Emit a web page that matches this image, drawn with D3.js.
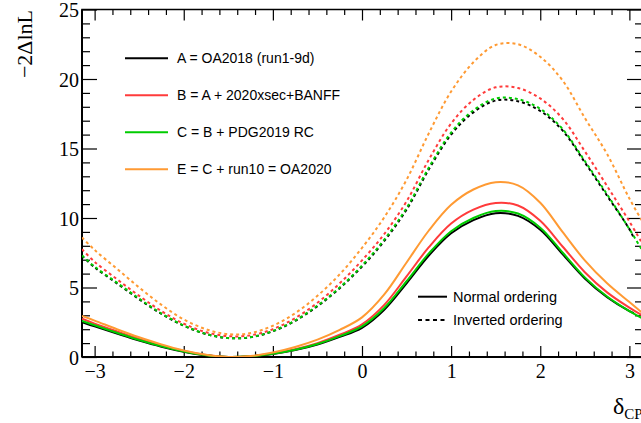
<!DOCTYPE html>
<html><head><meta charset="utf-8">
<script src="https://cdn.jsdelivr.net/npm/d3@7"></script>
<style>body{margin:0;background:#fff;} svg{display:block;}</style>
</head><body><svg id="c" width="641" height="423"></svg>
<script>
// ---- data ----
const xGrid  = [-3.1416, -3.0, -2.75, -2.5, -2.25, -2.0, -1.75, -1.5, -1.25, -1.0, -0.75, -0.5, -0.25, 0, 0.25, 0.5, 0.75, 1.0, 1.25, 1.5, 1.75, 2.0, 2.25, 2.5, 2.75, 3.0, 3.1416];
const xGridA = [-3.1416, -3.0, -2.75, -2.5, -2.25, -2.0, -1.75, -1.5, -1.25, -1.0, -0.75, -0.5, -0.25, 0, 0.25, 0.5, 0.75, 1.0, 1.25, 1.5, 1.75, 2.0, 2.25, 2.5, 2.75, 3.0, 3.05];
// Normal ordering
const noA = [2.5, 2.2, 1.68, 1.18, 0.74, 0.38, 0.12, 0.0, 0.05, 0.22, 0.5, 0.9, 1.45, 2.1, 3.4, 5.3, 7.3, 8.9, 9.85, 10.35, 10.15, 9.15, 7.4, 5.65, 4.3, 3.3, 3.15];
const noB = [2.75, 2.4, 1.84, 1.3, 0.82, 0.43, 0.14, 0.0, 0.06, 0.25, 0.56, 1.0, 1.6, 2.35, 3.75, 5.8, 7.9, 9.6, 10.6, 11.08, 10.9, 9.8, 7.95, 6.1, 4.65, 3.55, 3.0];
const noC = [2.6, 2.28, 1.74, 1.22, 0.77, 0.4, 0.13, 0.0, 0.05, 0.23, 0.52, 0.93, 1.5, 2.2, 3.52, 5.45, 7.45, 9.05, 10.0, 10.5, 10.32, 9.3, 7.52, 5.73, 4.35, 3.3, 2.8];
const noE = [2.95, 2.62, 2.0, 1.42, 0.9, 0.47, 0.16, 0.0, 0.07, 0.32, 0.72, 1.25, 1.95, 2.85, 4.5, 6.8, 9.1, 10.95, 12.05, 12.58, 12.35, 11.1, 9.0, 6.95, 5.3, 3.95, 3.2];
// Inverted ordering
const ioA = [7.27, 6.45, 5.3, 4.15, 3.1, 2.25, 1.65, 1.36, 1.42, 1.85, 2.6, 3.65, 4.95, 6.5, 8.35, 10.6, 13.5, 16.0, 17.6, 18.45, 18.4, 17.7, 16.3, 14.0, 11.6, 9.2, 8.55];
const ioB = [7.75, 6.85, 5.6, 4.4, 3.3, 2.4, 1.78, 1.5, 1.56, 2.0, 2.8, 3.9, 5.3, 6.95, 8.85, 11.2, 14.2, 16.8, 18.5, 19.4, 19.35, 18.6, 17.15, 14.8, 12.3, 9.75, 8.2];
const ioC = [7.3, 6.5, 5.35, 4.2, 3.13, 2.27, 1.66, 1.36, 1.43, 1.87, 2.63, 3.7, 5.0, 6.58, 8.45, 10.72, 13.63, 16.15, 17.75, 18.6, 18.55, 17.85, 16.4, 14.1, 11.7, 9.2, 7.7];
const ioE = [8.6, 7.7, 6.35, 5.0, 3.75, 2.7, 2.0, 1.64, 1.72, 2.25, 3.15, 4.4, 5.95, 7.85, 10.05, 12.75, 16.1, 19.1, 21.2, 22.45, 22.5, 21.6, 19.9, 17.2, 14.6, 11.4, 9.8];

const legendLabels = ["A = OA2018 (run1-9d)", "B = A + 2020xsec+BANFF", "C = B + PDG2019 RC", "E = C + run10 = OA2020"];
const seriesColors = ["#000000", "#ff3b3b", "#00cc00", "#ff9a33"];
const orderLabels = ["Normal ordering", "Inverted ordering"];
const xMajorTicks = [-3, -2, -1, 0, 1, 2, 3];
const yMajorTicks = [0, 5, 10, 15, 20, 25];

// ---- drawing ----
const svg = d3.select('#c');
const x = d3.scaleLinear().domain([-Math.PI, Math.PI]).range([82, 642]);
const y = d3.scaleLinear().domain([0, 25]).range([357, 9.5]);

const xMinor = d3.range(-3.2, 3.21, 0.2).map(v => +v.toFixed(1)).filter(v => v >= -Math.PI && v <= Math.PI && Math.abs(v - Math.round(v)) > 1e-6);
const yMinor = d3.range(0, 25.01, 1).filter(v => v % 5 !== 0);

svg.append('defs').append('clipPath').attr('id', 'clip')
  .append('rect').attr('x', 82).attr('y', 9.5).attr('width', 560).attr('height', 347.5);

function axisGroup(axis, tx, ty) {
  const g = svg.append('g').attr('transform', `translate(${tx},${ty})`).call(axis);
  g.select('.domain').remove();
  g.selectAll('line').attr('stroke', '#000').attr('stroke-width', 1.2);
  return g;
}
const fmt = d3.format('d');
// bottom
const gb = axisGroup(d3.axisBottom(x).tickValues(xMajorTicks).tickSize(-11).tickFormat(fmt), 0, 357);
gb.selectAll('text').attr('y', 21).attr('dy', 0).attr('font-family', 'Liberation Serif, Times New Roman, serif').attr('font-size', 20).attr('fill', '#000');
axisGroup(d3.axisBottom(x).tickValues(xMinor).tickSize(-5.5).tickFormat(''), 0, 357);
// top
axisGroup(d3.axisTop(x).tickValues(xMajorTicks).tickSize(-11).tickFormat(''), 0, 9.5);
axisGroup(d3.axisTop(x).tickValues(xMinor).tickSize(-5.5).tickFormat(''), 0, 9.5);
// left
const gl = axisGroup(d3.axisLeft(y).tickValues(yMajorTicks).tickSize(-15).tickFormat(fmt), 82, 0);
gl.selectAll('text').attr('x', -3).attr('dy', '0.35em').attr('font-family', 'Liberation Serif, Times New Roman, serif').attr('font-size', 20).attr('fill', '#000');
axisGroup(d3.axisLeft(y).tickValues(yMinor).tickSize(-8).tickFormat(''), 82, 0);
// right
axisGroup(d3.axisRight(y).tickValues(yMajorTicks).tickSize(-15).tickFormat(''), 642, 0);
axisGroup(d3.axisRight(y).tickValues(yMinor).tickSize(-7).tickFormat(''), 642, 0);

// frame
svg.append('rect').attr('x', 82).attr('y', 9.5).attr('width', 560).attr('height', 347.5)
  .attr('fill', 'none').attr('stroke', '#000').attr('stroke-width', 1.5);
svg.append('line').attr('x1', 82).attr('x2', 642).attr('y1', 357).attr('y2', 357).attr('stroke', '#000').attr('stroke-width', 2);
svg.append('line').attr('x1', 82).attr('x2', 82).attr('y1', 9.5).attr('y2', 357).attr('stroke', '#000').attr('stroke-width', 2);

// curves
const line = d3.line().x(d => x(d[0])).y(d => y(d[1])).curve(d3.curveCatmullRom.alpha(0.5));
const curves = svg.append('g').attr('clip-path', 'url(#clip)');
const ioSeries = [[xGridA, ioA], [xGrid, ioB], [xGrid, ioC], [xGrid, ioE]];
const noSeries = [[xGridA, noA], [xGrid, noB], [xGrid, noC], [xGrid, noE]];
ioSeries.forEach((s, i) => {
  curves.append('path').attr('d', line(s[0].map((v, j) => [v, s[1][j]])))
    .attr('fill', 'none').attr('stroke', seriesColors[i]).attr('stroke-width', 2).attr('stroke-dasharray', '3,3');
});
noSeries.forEach((s, i) => {
  curves.append('path').attr('d', line(s[0].map((v, j) => [v, s[1][j]])))
    .attr('fill', 'none').attr('stroke', seriesColors[i]).attr('stroke-width', 2);
});

// legend 1
const leg = svg.append('g');
legendLabels.forEach((t, i) => {
  const cy = 58.3 + i * 37;
  leg.append('line').attr('x1', 125).attr('x2', 168).attr('y1', cy).attr('y2', cy)
    .attr('stroke', seriesColors[i]).attr('stroke-width', 2);
  leg.append('text').attr('x', 177).attr('y', cy).attr('dy', '0.35em')
    .attr('font-family', 'Liberation Sans, Arial, sans-serif').attr('font-size', 14).attr('fill', '#000').text(t);
});
// legend 2
orderLabels.forEach((t, i) => {
  const cy = 296.7 + i * 23.3;
  leg.append('line').attr('x1', 418).attr('x2', 447).attr('y1', cy).attr('y2', cy)
    .attr('stroke', '#000').attr('stroke-width', 2).attr('stroke-dasharray', i ? '4,3.5' : null);
  leg.append('text').attr('x', 453).attr('y', cy).attr('dy', '0.35em')
    .attr('font-family', 'Liberation Sans, Arial, sans-serif').attr('font-size', 14.5).attr('fill', '#000').text(t);
});

// axis titles
svg.append('text').attr('transform', 'translate(32,44) rotate(-90)').attr('text-anchor', 'middle')
  .attr('font-family', 'Liberation Serif, Times New Roman, serif').attr('font-size', 22).attr('fill', '#000').text('−2ΔlnL');
const xt = svg.append('text').attr('x', 613).attr('y', 414)
  .attr('font-family', 'Liberation Serif, Times New Roman, serif').attr('font-size', 24).attr('fill', '#000');
xt.append('tspan').text('δ');
xt.append('tspan').attr('font-size', 15).attr('dy', 5).text('CP');
</script></body></html>
